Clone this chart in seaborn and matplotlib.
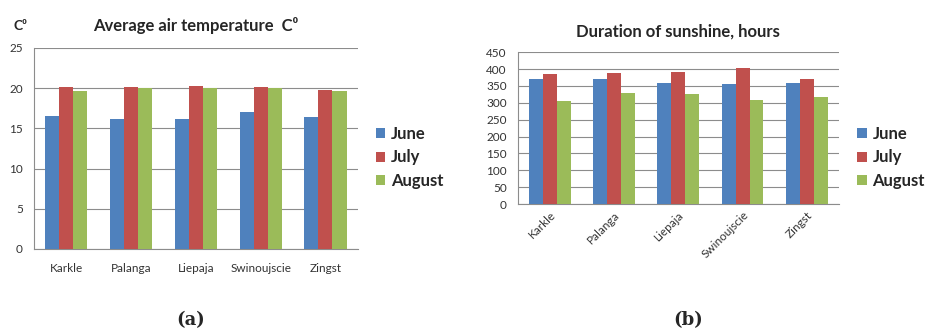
import pandas as pd
import matplotlib
matplotlib.use("Agg")
import matplotlib.pyplot as plt
import seaborn as sns

stations = ["Karkle", "Palanga", "Liepaja", "Swinoujscie", "Zingst"]
months = ["June", "July", "August"]

temp_june = [16.5, 16.1, 16.1, 17.0, 16.4]
temp_july = [20.1, 20.1, 20.3, 20.1, 19.8]
temp_august = [19.7, 20.0, 20.0, 20.0, 19.6]

sun_june = [369, 369, 360, 356, 360]
sun_july = [384, 388, 392, 402, 369]
sun_august = [305, 328, 325, 309, 318]

colors = ["#4F81BD", "#C0504D", "#9BBB59"]


def to_long(june, july, august):
    rows = []
    for month, vals in zip(months, [june, july, august]):
        for st, v in zip(stations, vals):
            rows.append({"station": st, "month": month, "value": v})
    return pd.DataFrame(rows)


sns.set_style("white")
plt.rcParams["font.family"] = ["Lato", "DejaVu Sans"]

fig = plt.figure(figsize=(9.28, 3.28), dpi=100)
ax1 = fig.add_axes([0.0366, 0.241, 0.349, 0.613])
ax2 = fig.add_axes([0.558, 0.378, 0.346, 0.463])

panels = [
    (ax1, to_long(temp_june, temp_july, temp_august), 25, 5),
    (ax2, to_long(sun_june, sun_july, sun_august), 450, 50),
]

for ax, df, ymax, step in panels:
    sns.barplot(data=df, x="station", y="value", hue="month", palette=colors,
                width=0.65, saturation=1, ax=ax, legend=True, zorder=3)
    ax.set_ylim(0, ymax)
    ax.set_yticks(range(0, ymax + 1, step))
    ax.yaxis.grid(True, color="#8c8c8c", linewidth=0.8, zorder=0)
    ax.set_axisbelow(True)
    ax.set_xlabel("")
    ax.set_ylabel("")
    for s in ["top", "right"]:
        ax.spines[s].set_visible(False)
    for s in ["left", "bottom"]:
        ax.spines[s].set_color("#8c8c8c")
        ax.spines[s].set_linewidth(0.8)
    ax.tick_params(axis="y", length=3, color="#8c8c8c", labelsize=8.5, labelcolor="#333333", pad=5)
    ax.tick_params(axis="x", length=0, labelsize=8.5, labelcolor="#333333")
    for p in ax.patches:
        p.set_edgecolor("none")

ax1.tick_params(axis="x", pad=10)
ax2.tick_params(axis="x", pad=4)
ax1.set_title("Average air temperature  C\u2070", fontsize=12, fontweight="bold", pad=12)
ax2.set_title("Duration of sunshine, hours", fontsize=12, fontweight="bold", pad=11)

for lbl in ax2.get_xticklabels():
    lbl.set_rotation(45)
    lbl.set_ha("right")
    lbl.set_rotation_mode("anchor")

for ax, x in [(ax1, 0.405), (ax2, 0.924)]:
    h, l = ax.get_legend_handles_labels()
    ax.get_legend().remove()
    fig.legend(h, l, loc="center left", bbox_to_anchor=(x, 0.52), frameon=False,
               borderaxespad=0, borderpad=0,
               handlelength=0.55, handleheight=0.55, handletextpad=0.35, labelspacing=0.45,
               prop={"weight": "bold", "size": 12})

fig.text(0.015, 0.91, "C\u2070", fontsize=10, fontweight="bold")

fig.text(0.205, 0.01, "(a)", fontsize=13, fontweight="bold", family="DejaVu Serif", ha="center")
fig.text(0.742, 0.01, "(b)", fontsize=13, fontweight="bold", family="DejaVu Serif", ha="center")

fig.savefig("out.png", dpi=100)
